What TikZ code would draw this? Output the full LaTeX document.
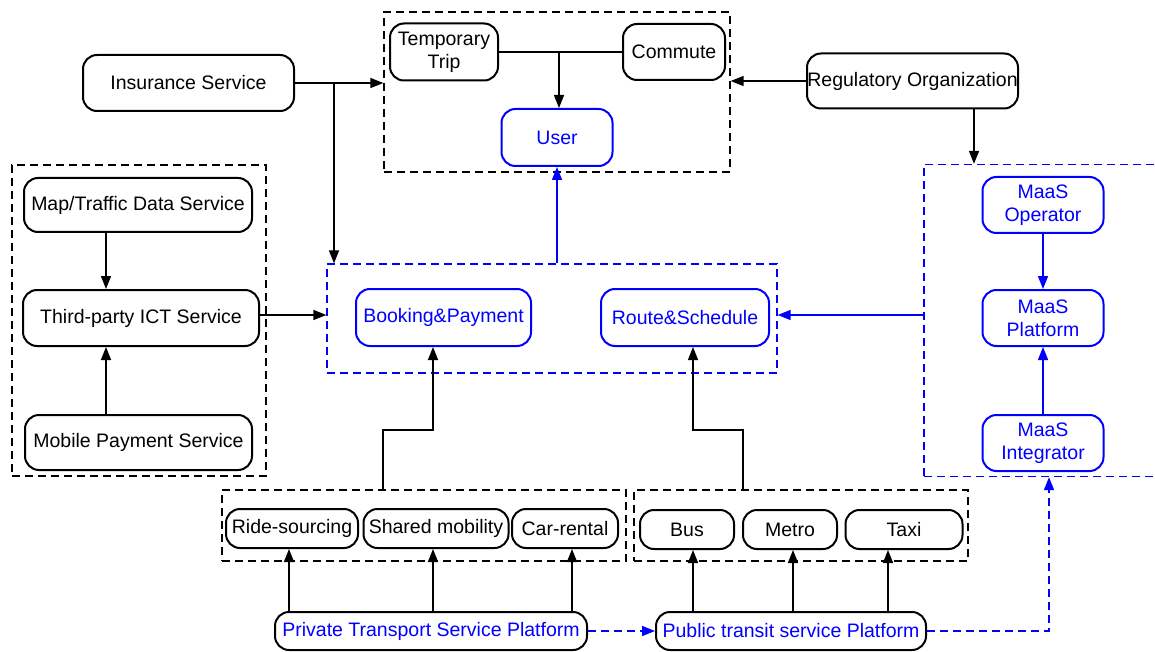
\documentclass[tikz,border=0pt]{standalone}
\usepackage{fontspec}
\setmainfont{Liberation Sans}
\usetikzlibrary{arrows.meta,calc}
\definecolor{mblue}{RGB}{0,0,255}
\begin{document}
\begin{tikzpicture}[x=1pt,y=-1pt,
  font=\fontsize{19.5}{23}\selectfont,
  box/.style={draw=black,line width=2pt,rounded corners=14pt,inner sep=0pt,align=center,text=black},
  bbox/.style={box,draw=mblue,text=mblue},
  grp/.style={draw=black,line width=1.3pt,dash pattern=on 8pt off 5pt,inner sep=0pt},
  bgrp/.style={grp,draw=mblue},
  conn/.style={line width=1.5pt,-{Triangle[length=13pt,width=10pt]}},
  plain/.style={line width=1.5pt},
  bconn/.style={conn,color=mblue},
  bdash/.style={bconn,dash pattern=on 8pt off 5pt},
]
\useasboundingbox (0,0) rectangle (1155,652);

% ---- group frames ----
\node[grp,minimum width=346,minimum height=160] (topgrp) at (557,92) {};
\node[grp,minimum width=254,minimum height=311] (leftgrp) at (139,320.5) {};
\node[bgrp,minimum width=450,minimum height=109] (bookgrp) at (552,318.5) {};
\node[bgrp,minimum width=245,minimum height=312] (maasgrp) at (1046.5,320.5) {};
\node[grp,minimum width=404,minimum height=71] (privgrp) at (424,525.5) {};
\node[grp,minimum width=334,minimum height=71] (pubgrp) at (801,525.5) {};

% ---- top: trips and user ----
\node[box,minimum width=108,minimum height=57] (tt) at (444,52) {Temporary\\Trip};
\node[box,minimum width=102,minimum height=56] (cm) at (674,52) {Commute};
\node[bbox,minimum width=111,minimum height=57] (user) at (557,137.5) {User};
\node[box,minimum width=211,minimum height=56] (ins) at (188.5,83) {Insurance Service};
\node[box,minimum width=211,minimum height=55] (reg) at (912.5,81) {Regulatory Organization};

% ---- left: ICT services ----
\node[box,minimum width=228,minimum height=54] (map) at (138,205) {Map/Traffic Data Service};
\node[box,minimum width=236,minimum height=56] (ict) at (141,318) {Third-party ICT Service};
\node[box,minimum width=227,minimum height=55] (mob) at (138.5,442.5) {Mobile Payment Service};

% ---- centre: booking and routing ----
\node[bbox,minimum width=175,minimum height=57] (book) at (443.5,317.5) {Booking\&Payment};
\node[bbox,minimum width=168,minimum height=57] (route) at (685,317.5) {Route\&Schedule};

% ---- right: MaaS roles ----
\node[bbox,minimum width=121,minimum height=56] (mop) at (1043,205) {MaaS\\Operator};
\node[bbox,minimum width=121,minimum height=56] (mpl) at (1043,318) {MaaS\\Platform};
\node[bbox,minimum width=121,minimum height=56] (mint) at (1043,443) {MaaS\\Integrator};

% ---- bottom: transport modes ----
\node[box,minimum width=132,minimum height=39] (ride) at (292,528.5) {Ride-sourcing};
\node[box,minimum width=145,minimum height=39] (shared) at (436,528.5) {Shared mobility};
\node[box,minimum width=106,minimum height=39] (car) at (565,528.5) {Car-rental};
\node[box,minimum width=94,minimum height=39] (bus) at (687,529.5) {Bus};
\node[box,minimum width=94,minimum height=39] (metro) at (790,529.5) {Metro};
\node[box,minimum width=117,minimum height=39] (taxi) at (904,529.5) {Taxi};
\node[box,text=mblue,minimum width=312,minimum height=38] (priv) at (431,631) {Private Transport Service Platform};
\node[box,text=mblue,minimum width=270,minimum height=38] (pub) at (791,631) {Public transit service Platform};

% ---- branch points ----
\coordinate (tj) at (559,52);
\coordinate (insj) at (334,83);
\coordinate (regd) at (974,108);
\coordinate (ictx) at (106,0);
\coordinate (mx) at (924,315);
\coordinate (pj) at (383,430);
\coordinate (uj) at (743,430);
\coordinate (bx) at (433,0);
\coordinate (rx) at (693,0);
\coordinate (pubj) at (1049,631);

% ---- connectors ----
\draw[plain] (tt.east) -- (cm.west);
\draw[conn] (tj) -- (tj |- user.north);
\draw[conn] (ins.east) -- (ins.east -| topgrp.west);
\draw[conn] (insj) -- (insj |- bookgrp.north);
\draw[conn] (reg.west) -- (reg.west -| topgrp.east);
\draw[conn] (regd) -- (regd |- maasgrp.north);

\draw[conn] (ictx |- map.south) -- (ictx |- ict.north);
\draw[conn] (ictx |- mob.north) -- (ictx |- ict.south);
\draw[conn] ([yshift=3]ict.east) -- ([yshift=3]ict.east -| bookgrp.west);

\draw[bconn] (user.south |- bookgrp.north) -- (user.south);
\draw[bconn] (mop.south) -- (mpl.north);
\draw[bconn] (mint.north) -- (mpl.south);
\draw[bconn] (mx) -- (mx -| bookgrp.east);

\draw[conn] (pj |- privgrp.north) -- (pj) -- (pj -| bx) -- (bx |- book.south);
\draw[conn] (uj |- pubgrp.north) -- (uj) -- (uj -| rx) -- (rx |- route.south);

\draw[conn] ([xshift=-3]ride.south |- priv.north) -- ([xshift=-3]ride.south);
\draw[conn] ([xshift=-3]shared.south |- priv.north) -- ([xshift=-3]shared.south);
\draw[conn] ([xshift=7]car.south |- priv.north) -- ([xshift=7]car.south);
\draw[conn] ([xshift=6]bus.south |- pub.north) -- ([xshift=6]bus.south);
\draw[conn] ([xshift=3]metro.south |- pub.north) -- ([xshift=3]metro.south);
\draw[conn] ([xshift=-16]taxi.south |- pub.north) -- ([xshift=-16]taxi.south);

\draw[bdash] (priv.east) -- (pub.west);
\draw[bdash] (pub.east) -- (pubj) -- (pubj |- maasgrp.south);
\end{tikzpicture}
\end{document}
